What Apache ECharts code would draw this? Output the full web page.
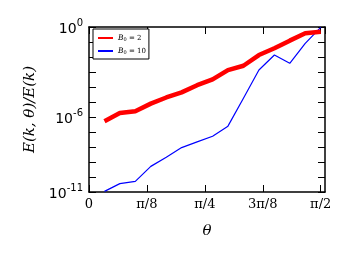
<!DOCTYPE html>
<html><head><meta charset="utf-8">
<script src="https://cdn.jsdelivr.net/npm/echarts@6/dist/echarts.min.js"></script>
<style>html,body{margin:0;padding:0;background:#fff}#c{width:350px;height:260px}</style>
</head><body><div id="c"></div>
<script>
// theta values (k*pi/30, k=1..15)
const theta = [0.105, 0.209, 0.314, 0.419, 0.524, 0.628, 0.733, 0.838, 0.942, 1.047, 1.152, 1.257, 1.361, 1.466, 1.571];
const seriesB2 = [5.25e-7, 1.82e-6, 2.45e-6, 7.8e-6, 2.0e-5, 4.4e-5, 1.32e-4, 3.2e-4, 1.35e-3, 2.6e-3, 1.35e-2, 3.8e-2, 0.123, 0.38, 0.49];
const seriesB10 = [1.1e-11, 3.6e-11, 5.1e-11, 5.1e-10, 2.1e-9, 9.1e-9, 2.2e-8, 5.2e-8, 2.45e-7, 1.8e-5, 1.35e-3, 1.35e-2, 3.8e-3, 8.1e-2, 0.95];
const xTickValues = [0, Math.PI/8, Math.PI/4, 3*Math.PI/8, Math.PI/2];
const xTickLabels = ['0', 'π/8', 'π/4', '3π/8', 'π/2'];
const yLabelExponents = [-11, -6, 0];
const seriesNames = ['B0=2', 'B0=10'];

const chart = echarts.init(document.getElementById('c'), null, {renderer:'canvas'});
function axisLine(){ return {show:true, onZero:false, lineStyle:{color:'#000', width:1.5}}; }
function ticks(){ return {show:true, inside:true, length:7, lineStyle:{color:'#000', width:1}}; }
function xLabel(v){ for(let i=0;i<xTickValues.length;i++){ if(Math.abs(v-xTickValues[i])<1e-6) return xTickLabels[i]; } return ''; }
chart.setOption({
  animation:false,
  backgroundColor:'#fff',
  grid:{left:89, right:25, top:27, bottom:68, show:false},
  xAxis:[{
    type:'value', min:0, max:1.6, interval:Math.PI/8, position:'bottom',
    axisLine:axisLine(), splitLine:{show:false}, axisTick:ticks(),
    axisLabel:{margin:6, color:'#000', fontFamily:'DejaVu Serif', fontSize:13, showMaxLabel:false, formatter:xLabel},
    name:'θ', nameLocation:'middle', nameGap:32,
    nameTextStyle:{fontFamily:'DejaVu Serif', fontStyle:'italic', fontSize:15, color:'#000'}
  },{
    type:'value', min:0, max:1.6, interval:Math.PI/8, position:'top',
    axisLine:axisLine(), splitLine:{show:false}, axisTick:ticks(),
    axisLabel:{show:false}
  }],
  yAxis:[{
    type:'log', logBase:10, min:1e-11, max:1, interval:1, position:'left',
    axisLine:axisLine(), splitLine:{show:false}, axisTick:ticks(),
    axisLabel:{margin:6, color:'#000', showMinLabel:true, showMaxLabel:true,
      formatter:function(v){ const e=Math.round(Math.log10(v)); return yLabelExponents.indexOf(e)>=0 ? '{b|10}{s|'+e+'}' : ''; },
      rich:{b:{fontFamily:'DejaVu Sans', fontSize:14, color:'#000', verticalAlign:'bottom'},
            s:{fontFamily:'DejaVu Sans', fontSize:10, color:'#000', verticalAlign:'top', padding:[0,0,8,0]}}},
    name:'E(k, θ)/E(k)', nameLocation:'middle', nameGap:50,
    nameTextStyle:{fontFamily:'DejaVu Serif', fontStyle:'italic', fontSize:15, color:'#000'}
  },{
    type:'log', logBase:10, min:1e-11, max:1, interval:1, position:'right',
    axisLine:axisLine(), splitLine:{show:false}, axisTick:ticks(),
    axisLabel:{show:false}
  }],
  legend:{
    left:93, top:29, orient:'vertical', itemWidth:15, itemHeight:7, itemGap:5,
    padding:[5,3,4,4], borderColor:'#000', borderWidth:1, backgroundColor:'#fff',
    itemStyle:{opacity:0},
    data:[{name:seriesNames[0]},{name:seriesNames[1]}],
    formatter:function(n){ return n===seriesNames[0] ? '{i|B}{u|0}{n| = 2}' : '{i|B}{u|0}{n| = 10}'; },
    textStyle:{rich:{
      i:{fontFamily:'DejaVu Serif', fontStyle:'italic', fontSize:7.5, color:'#000'},
      u:{fontFamily:'DejaVu Serif', fontSize:5, color:'#000', verticalAlign:'bottom'},
      n:{fontFamily:'DejaVu Serif', fontSize:7, color:'#000'}}}
  },
  series:[{
    name:seriesNames[0], type:'line', xAxisIndex:0, yAxisIndex:0,
    data:theta.map((t,i)=>[t, seriesB2[i]]), showSymbol:false,
    lineStyle:{color:'#ff0000', width:4.5}, itemStyle:{color:'#ff0000'}, z:3
  },{
    name:seriesNames[1], type:'line', xAxisIndex:0, yAxisIndex:0,
    data:theta.map((t,i)=>[t, seriesB10[i]]), showSymbol:false,
    lineStyle:{color:'#0000ff', width:1.2}, itemStyle:{color:'#0000ff'}, z:2
  }]
});
</script></body></html>
